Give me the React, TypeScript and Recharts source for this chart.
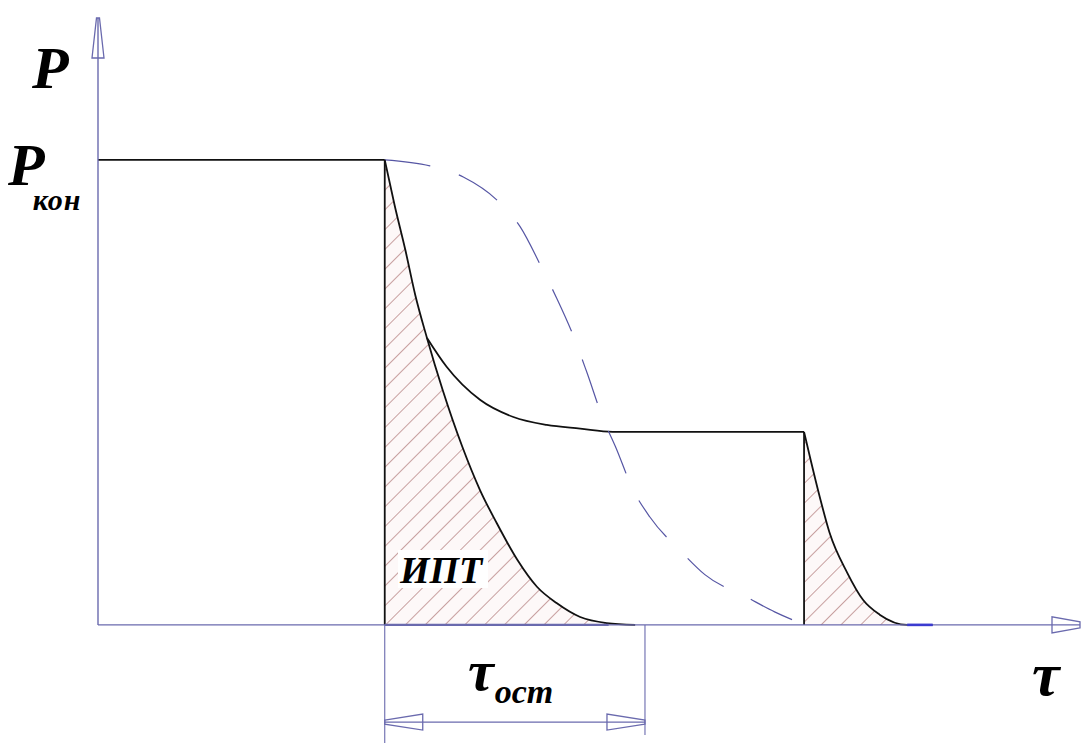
import { Area, ComposedChart, Line, ReferenceDot, ReferenceLine, XAxis, YAxis } from 'recharts';

// time axis (tau) in arbitrary units, pressure normalised so that P_kon = 1
const T_MAX = 10;
const P_MIN = -0.254;
const P_MAX = 1.305;

// steady pressure before the drop
const plateauT = [0, 2.92];
const plateauP = [1, 1];

// lower boundary of the ИПТ area (fast decay)
const iptT = [2.92, 3.02, 3.13, 3.23, 3.35, 3.51, 3.71, 3.89, 4.06, 4.27, 4.47, 4.67, 4.91, 5.18, 5.47];
const iptP = [1, 0.903, 0.806, 0.71, 0.617, 0.505, 0.383, 0.29, 0.219, 0.14, 0.082, 0.047, 0.017, 0.004, 0];

// branch that levels off at the intermediate pressure
const branchT = [3.35, 3.55, 3.89, 4.23, 4.57, 4.91, 5.24, 7.19];
const branchP = [0.617, 0.555, 0.484, 0.447, 0.43, 0.422, 0.415, 0.415];

// second decay after the step at tau = 7.19
const tailT = [7.19, 7.25, 7.35, 7.45, 7.63, 7.79, 7.96, 8.24, 8.5];
const tailP = [0.415, 0.361, 0.275, 0.198, 0.112, 0.054, 0.022, 0, 0];

// dashed S-curve
const sCurveT = [2.92, 3.38, 3.72, 4.09, 4.3, 4.53, 4.67, 4.84, 4.98, 5.14, 5.27, 5.45, 5.62, 5.95, 6.18, 6.62, 6.89, 7.2];
const sCurveP = [1, 0.987, 0.963, 0.908, 0.856, 0.763, 0.703, 0.622, 0.542, 0.445, 0.383, 0.29, 0.232, 0.155, 0.108, 0.058, 0.028, 0];

const tauStart = 2.92;
const tauEnd = 5.57;
const dimLevel = -0.209;

const AXIS = '#6a6aae';
const INK = '#111111';
const HATCH = '#944848';
const DASH = '#5656a4';

const zip = (t: number[], p: number[]) => t.map((v, i) => ({ t: v, p: p[i] }));

// outlined arrow head, tip at (cx, cy), pointing along (dx, dy)
const arrowHead = (dx: number, dy: number, len: number, wBase: number, wTip: number) => (props: any) => {
  const { cx, cy } = props;
  const bx = cx - dx * len;
  const by = cy - dy * len;
  const px = -dy;
  const py = dx;
  const pts = [
    [cx + px * wTip, cy + py * wTip],
    [bx + px * wBase, by + py * wBase],
    [bx - px * wBase, by - py * wBase],
    [cx - px * wTip, cy - py * wTip],
  ]
    .map((p) => p.join(','))
    .join(' ');
  return <polygon points={pts} fill="none" stroke={AXIS} strokeWidth={1.3} />;
};

const serif = '"Liberation Serif", "DejaVu Serif", serif';

export default function App() {
  return (
    <div style={{ position: 'absolute', left: 0, top: 0, width: 1083, height: 743, background: '#fff' }}>
      <ComposedChart width={1083} height={743} margin={{ top: 18, right: 3, left: 98, bottom: 0 }}>
        <defs>
          <pattern id="hatch" patternUnits="userSpaceOnUse" width={14} height={14} patternTransform="rotate(45)">
            <rect width={14} height={14} fill="#fdf8f8" />
            <line x1={0} y1={0} x2={0} y2={14} stroke={HATCH} strokeWidth={1} />
          </pattern>
        </defs>
        <XAxis dataKey="t" type="number" domain={[0, T_MAX]} hide allowDataOverflow />
        <YAxis type="number" domain={[P_MIN, P_MAX]} hide allowDataOverflow />

        <Area
          data={zip(iptT, iptP)}
          dataKey="p"
          type="monotone"
          baseValue={0}
          fill="url(#hatch)"
          fillOpacity={1}
          stroke={INK}
          strokeWidth={1.8}
          isAnimationActive={false}
        />
        <Area
          data={zip(tailT, tailP)}
          dataKey="p"
          type="monotone"
          baseValue={0}
          fill="url(#hatch)"
          fillOpacity={1}
          stroke={INK}
          strokeWidth={1.8}
          isAnimationActive={false}
        />
        <Line data={zip(plateauT, plateauP)} dataKey="p" type="linear" stroke={INK} strokeWidth={1.8} dot={false} isAnimationActive={false} />
        <Line data={zip(branchT, branchP)} dataKey="p" type="monotone" stroke={INK} strokeWidth={1.8} dot={false} isAnimationActive={false} />
        <Line
          data={zip(sCurveT, sCurveP)}
          dataKey="p"
          type="monotone"
          stroke={DASH}
          strokeWidth={1.2}
          strokeDasharray="46 30"
          dot={false}
          isAnimationActive={false}
        />

        {/* vertical edges of the hatched areas */}
        <ReferenceLine segment={[{ x: tauStart, y: 0 }, { x: tauStart, y: 1 }]} stroke={INK} strokeWidth={1.8} />
        <ReferenceLine segment={[{ x: 7.19, y: 0 }, { x: 7.19, y: 0.415 }]} stroke={INK} strokeWidth={1.8} />

        {/* coordinate axes */}
        <ReferenceLine segment={[{ x: 0, y: 0 }, { x: 0, y: P_MAX }]} stroke={AXIS} strokeWidth={1.4} />
        <ReferenceLine segment={[{ x: 0, y: 0 }, { x: T_MAX, y: 0 }]} stroke={AXIS} strokeWidth={1.4} />
        <ReferenceLine segment={[{ x: tauStart, y: 0 }, { x: 5.2, y: 0 }]} stroke={AXIS} strokeWidth={2.4} />
        <ReferenceLine segment={[{ x: 8.24, y: 0 }, { x: 8.5, y: 0 }]} stroke="#3b3bd0" strokeWidth={2.6} />
        <ReferenceDot x={0} y={P_MAX} r={0} ifOverflow="visible" shape={arrowHead(0, -1, 40, 6, 1.5)} />
        <ReferenceDot x={T_MAX} y={0} r={0} ifOverflow="visible" shape={arrowHead(1, 0, 28, 8, 3)} />

        {/* tau_ost dimension */}
        <ReferenceLine segment={[{ x: tauStart, y: P_MIN }, { x: tauStart, y: 0 }]} stroke={AXIS} strokeWidth={1.1} />
        <ReferenceLine segment={[{ x: tauEnd, y: -0.237 }, { x: tauEnd, y: 0 }]} stroke={AXIS} strokeWidth={1.1} />
        <ReferenceLine segment={[{ x: tauStart, y: dimLevel }, { x: tauEnd, y: dimLevel }]} stroke={AXIS} strokeWidth={1.3} />
        <ReferenceDot x={tauStart} y={dimLevel} r={0} ifOverflow="visible" shape={arrowHead(-1, 0, 38, 8, 2)} />
        <ReferenceDot x={tauEnd} y={dimLevel} r={0} ifOverflow="visible" shape={arrowHead(1, 0, 38, 8, 2)} />
      </ComposedChart>

      <svg width={1083} height={743} style={{ position: 'absolute', left: 0, top: 0, pointerEvents: 'none' }}>
        <g fontFamily={serif} fontStyle="italic" fontWeight="bold" fill="#000">
          <text x={32} y={88} fontSize={60}>P</text>
          <text x={8} y={185} fontSize={60}>
            P
            <tspan dx={-12} dy={25} fontSize={30} letterSpacing={1}>кон</tspan>
          </text>
          <rect x={398} y={550} width={90} height={38} fill="#fff" />
          <text x={400} y={583} fontSize={38}>ИПТ</text>
          <text x={468} y={690} fontSize={58}>
            τ
            <tspan dx={1} dy={13} fontSize={34}>ост</tspan>
          </text>
          <text x={1032} y={695} fontSize={62}>τ</text>
        </g>
      </svg>
    </div>
  );
}
